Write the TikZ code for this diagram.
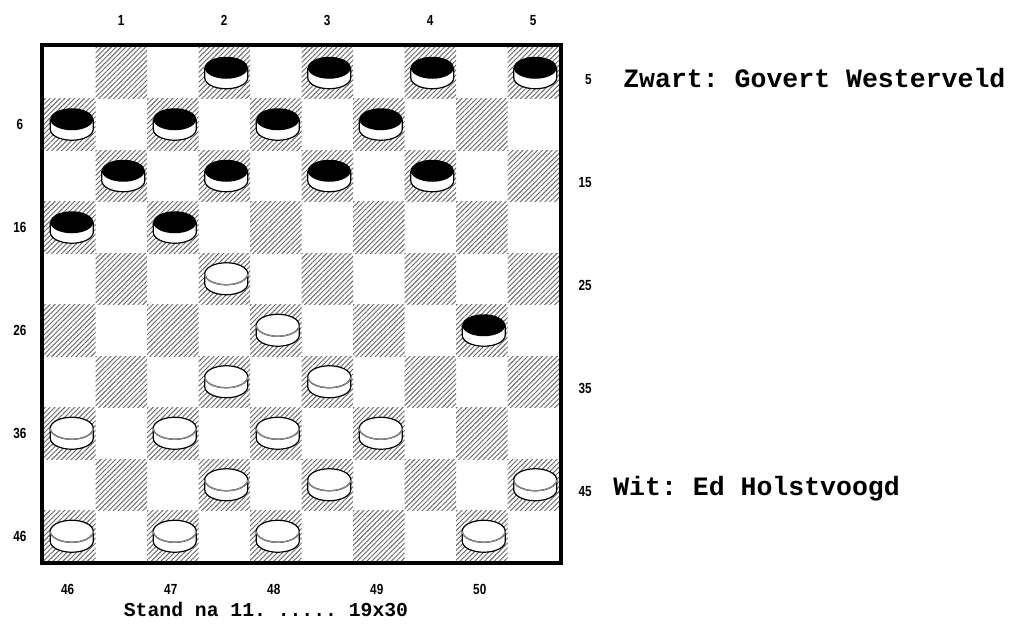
\documentclass[tikz,border=0pt]{standalone}
\usepackage{fontspec}
\newfontfamily\monofnt{Liberation Mono}
\newfontfamily\numfnt[FakeStretch=0.8]{Liberation Sans}
\usepackage{tikz}
\usetikzlibrary{patterns.meta}

\begin{document}
\frenchspacing
\begin{tikzpicture}[x=0.75pt, y=-0.75pt,
  sqdark/.style={pattern={Lines[angle=45, distance=2.6pt, line width=0.7pt]}, pattern color=black!60},
  numlbl/.style={font=\numfnt\bfseries\fontsize{11}{11}\selectfont, inner sep=0pt, anchor=base},
  plyrlbl/.style={font=\monofnt\bfseries\fontsize{19.9}{22}\selectfont, inner sep=0pt, anchor=base west},
  caption/.style={font=\monofnt\bfseries\fontsize{14.8}{16}\selectfont, inner sep=0pt, anchor=base},
  side/.style={fill=white, draw=black, line width=0.9pt},
  blackman/.pic={
    \path[side] (-19.5,-5) -- (-19.5,5) arc[start angle=180, end angle=0, x radius=21.5, y radius=11] -- (23.5,-5);
    \path[fill=black] (2,-5) ellipse[x radius=21.5, y radius=11];
  },
  whiteman/.pic={
    \path[side] (-19.5,-5) -- (-19.5,5) arc[start angle=180, end angle=0, x radius=21.5, y radius=11] -- (23.5,-5);
    \path[fill=white, draw=black, line width=0.9pt] (2,-5) ellipse[x radius=21.5, y radius=11];
    \draw[black!45, line width=0.9pt] (-19.5,-5) arc[start angle=180, end angle=0, x radius=21.5, y radius=11];
  }]
\useasboundingbox (0,0) rectangle (1010,629);

% playing squares 1..50
\foreach \n in {1,...,50}{
  \pgfmathtruncatemacro\r{(\n-1)/5}
  \pgfmathtruncatemacro\k{mod(\n-1,5)}
  \pgfmathtruncatemacro\c{2*\k+1-mod(\r,2)}
  \path[sqdark] (44+51.5*\c, 47+51.5*\r) rectangle ++(51.5,51.5);
  \coordinate (s\n) at (69.75+51.5*\c, 72.75+51.5*\r);
}
\draw[line width=3pt] (42,45) rectangle (561,563);

% men
\foreach \n in {2,3,4,5,6,7,8,9,11,12,13,14,16,17,30}
  \pic at (s\n) {blackman};
\foreach \n in {22,28,32,33,36,37,38,39,42,43,45,46,47,48,50}
  \pic at (s\n) {whiteman};

% border numbers
\foreach \i [evaluate=\i as \x using 121.25+103*(\i-1)] in {1,...,5}
  \node[numlbl] (top\i) at (\x,25) {\i};
\foreach \j [evaluate=\j as \y using 129.25+103*(\j-1), evaluate=\j as \t using int(10*\j-4)] in {1,...,5}
  \node[numlbl] (left\j) at (20,\y) {\t};
\foreach \j [evaluate=\j as \y using 84.75+103*(\j-1), evaluate=\j as \t using int(10*\j-5)] in {1,...,5}
  \node[numlbl, anchor=base east] (right\j) at (592,\y) {\t};
\foreach \i [evaluate=\i as \x using 67.75+103*(\i-1), evaluate=\i as \t using int(45+\i)] in {1,...,5}
  \node[numlbl] (bot\i) at (\x,594) {\t};

\node[plyrlbl] (zwart) at (623,87) {Zwart: Govert Westerveld};
\node[plyrlbl] (wit) at (613,495) {Wit: Ed Holstvoogd};
\node[caption] (stand) at (266,616) {Stand na 11. ..... 19x30};
\end{tikzpicture}
\end{document}
